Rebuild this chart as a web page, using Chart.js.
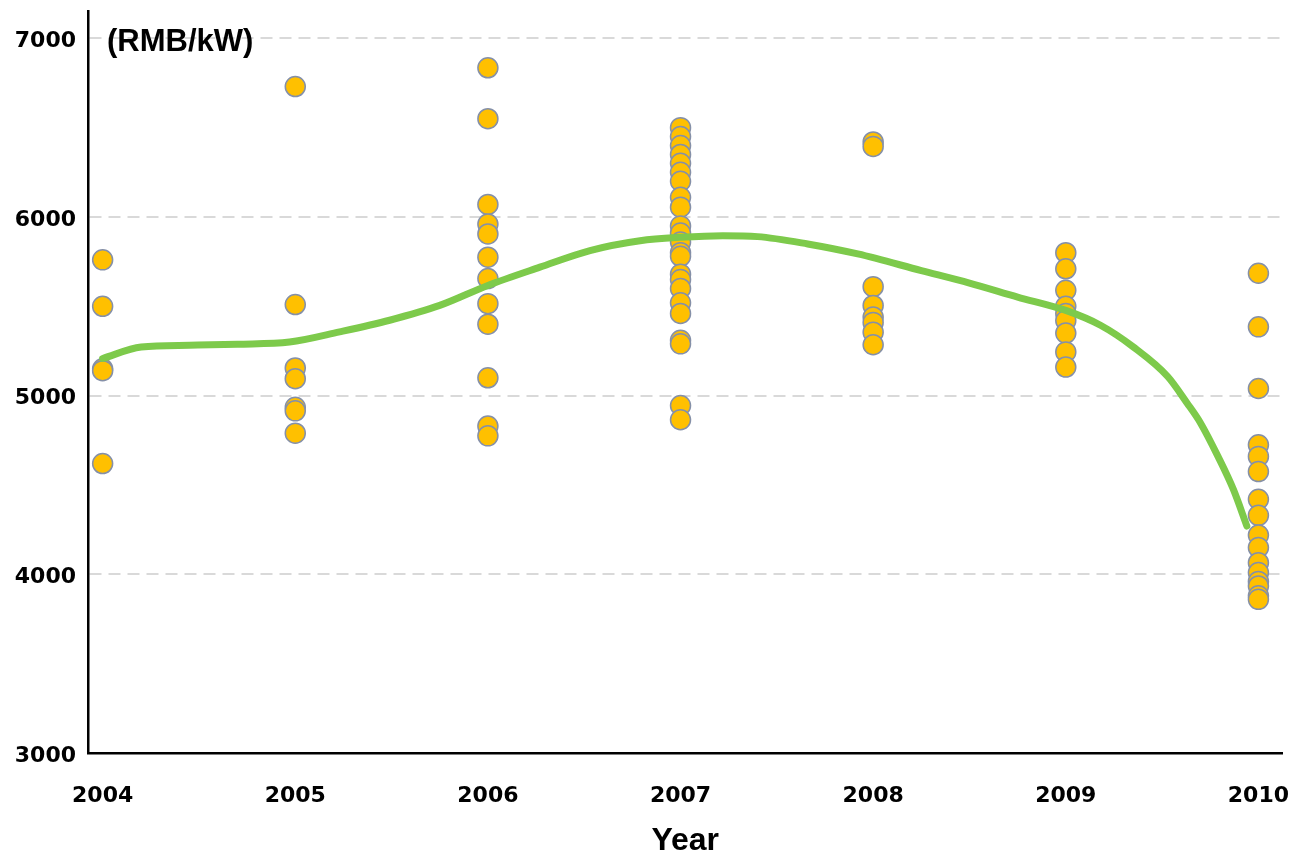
<!DOCTYPE html>
<html>
<head>
<meta charset="utf-8">
<script src="https://cdn.jsdelivr.net/npm/chart.js@4/dist/chart.umd.min.js"></script>
<style>
  html, body { margin: 0; padding: 0; background: #fff; }
  #wrap { width: 1294px; height: 857px; position: relative; }
</style>
</head>
<body>
<div id="wrap"><canvas id="cost-chart"></canvas></div>
<script>
// unit cost per year, RMB/kW
const years = [2004, 2005, 2006, 2007, 2008, 2009, 2010];
const cost2004 = [5760, 5500, 5150, 5140, 4620];
const cost2005 = [6730, 5510, 5155, 5095, 4935, 4915, 4790];
const cost2006 = [6835, 6550, 6070, 5960, 5905, 5775, 5655, 5515, 5400, 5100, 4830, 4775];
const cost2007 = [6500, 6450, 6400, 6350, 6300, 6250, 6200, 6110, 6055, 5950, 5910, 5860, 5800, 5780, 5680, 5650, 5600, 5520, 5460, 5310, 5290, 4945, 4865];
const cost2008 = [6420, 6395, 5610, 5505, 5440, 5410, 5355, 5285];
const cost2009 = [5800, 5710, 5590, 5500, 5460, 5420, 5350, 5245, 5160];
const cost2010 = [5685, 5385, 5040, 4725, 4660, 4575, 4420, 4330, 4220, 4150, 4065, 4010, 3960, 3935, 3880, 3860];

// trend curve
const trendX = [2004, 2004.2, 2004.45, 2004.7, 2004.97, 2005.23, 2005.49, 2005.75, 2006, 2006.27, 2006.53, 2006.79, 2007,
    2007.22, 2007.4, 2007.66, 2007.92, 2008.25, 2008.5, 2008.75, 2009, 2009.18, 2009.35, 2009.53, 2009.63, 2009.7, 2009.79, 2009.87, 2009.94];
const trendY = [5208, 5272, 5282, 5288, 5300, 5357, 5422, 5505, 5617, 5719, 5812, 5867, 5886,
    5895, 5890, 5849, 5793, 5700, 5630, 5552, 5477, 5394, 5273, 5106, 4958, 4846, 4660, 4475, 4270];

const yTicks = [3000, 4000, 5000, 6000, 7000];

const costByYear = [cost2004, cost2005, cost2006, cost2007, cost2008, cost2009, cost2010];
const points = [];
costByYear.forEach((list, i) => {
    list.forEach(v => points.push({ x: years[i], y: v }));
});
const trend = trendX.map((x, i) => ({ x: x, y: trendY[i] }));

const tickFont = { family: '"DejaVu Sans", Verdana, sans-serif', size: 22, weight: 'bold' };

const unitLabel = {
    id: 'unitLabel',
    afterDraw(chart) {
        const ctx = chart.ctx;
        ctx.save();
        ctx.font = 'bold 31px "Liberation Sans", Arial, sans-serif';
        ctx.fillStyle = '#000';
        ctx.textBaseline = 'middle';
        ctx.fillText('(RMB/kW)', 107, 42);
        ctx.restore();
    }
};

new Chart(document.getElementById('cost-chart'), {
    type: 'scatter',
    data: {
        datasets: [
            {
                type: 'line',
                data: trend,
                borderColor: '#7dca4b',
                borderWidth: 7,
                borderCapStyle: 'round',
                pointRadius: 0,
                cubicInterpolationMode: 'monotone',
                fill: false
            },
            {
                data: points,
                backgroundColor: '#ffc000',
                borderColor: '#8590a8',
                borderWidth: 1.5,
                pointRadius: 10,
                pointHoverRadius: 10
            }
        ]
    },
    options: {
        responsive: true,
        maintainAspectRatio: false,
        animation: false,
        layout: { padding: 0 },
        plugins: {
            legend: { display: false },
            tooltip: { enabled: false }
        },
        scales: {
            x: {
                type: 'linear',
                min: 2003.924,
                max: 2010.125,
                afterBuildTicks: scale => { scale.ticks = years.map(v => ({ value: v })); },
                afterFit: scale => {
                    scale.height = 104;
                    scale.paddingLeft = 0;
                    scale.paddingRight = 0;
                },
                grid: { display: false },
                border: { display: true, color: '#000', width: 2.5 },
                ticks: {
                    color: '#000',
                    font: tickFont,
                    padding: 22,
                    maxRotation: 0,
                    callback: v => String(v)
                },
                title: {
                    display: true,
                    text: 'Year',
                    color: '#000',
                    font: { family: '"Liberation Sans", Arial, sans-serif', size: 32, weight: 'bold', lineHeight: 1 },
                    padding: { top: 0, bottom: 0 }
                }
            },
            y: {
                min: 3000,
                max: 7150,
                afterBuildTicks: scale => { scale.ticks = yTicks.map(v => ({ value: v })); },
                afterFit: scale => {
                    scale.width = 88;
                    scale.paddingTop = 0;
                    scale.paddingBottom = 0;
                },
                grid: {
                    drawTicks: false,
                    lineWidth: 2,
                    color: ctx => (ctx.tick && ctx.tick.value === 3000) ? 'rgba(0,0,0,0)' : '#d9d9d9'
                },
                border: { display: true, color: '#000', width: 2.5, dash: [12, 7] },
                ticks: {
                    color: '#000',
                    font: tickFont,
                    padding: 12,
                    labelOffset: 3,
                    callback: v => String(v)
                }
            }
        }
    },
    plugins: [unitLabel]
});
</script>
</body>
</html>
